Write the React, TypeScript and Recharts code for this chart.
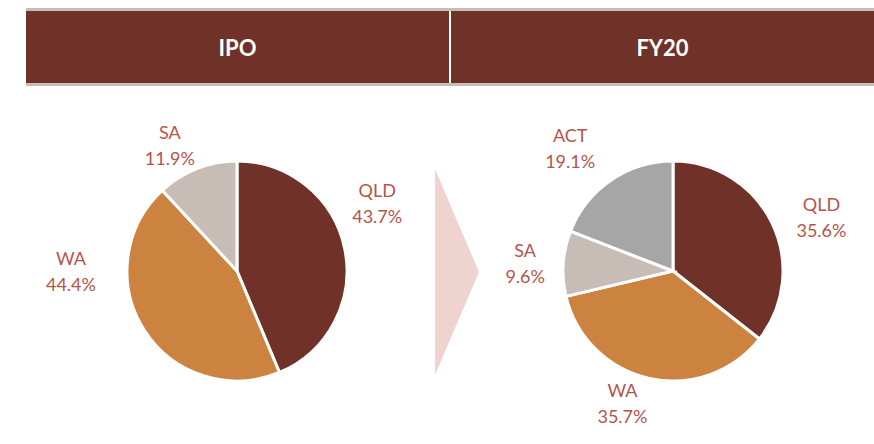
import { Cell, Pie, PieChart } from "recharts";

// state mix by store count, IPO vs FY20
const IPO_STATES = ["QLD", "WA", "SA"];
const IPO_SHARES = [43.7, 44.4, 11.9];

const FY20_STATES = ["QLD", "WA", "SA", "ACT"];
const FY20_SHARES = [35.6, 35.7, 9.6, 19.1];

const PANEL_TITLES = ["IPO", "FY20"];

const STATE_COLORS: Record<string, string> = {
  QLD: "#6f3128",
  WA: "#cd8340",
  SA: "#c8bcb7",
  ACT: "#a6a6a6",
};

// label placement (deg, px from centre) - mimics Excel "best fit"
const IPO_LABEL_POLAR = [
  [26, 156],
  [180, 166],
  [118, 143],
];
const FY20_LABEL_POLAR = [
  [20, 158],
  [-111, 141],
  [177, 148],
  [130, 160],
];

const FONT = "Lato, 'Open Sans', sans-serif";
const LABEL_COLOR = "#b5544a";
const HEADER_BG = "#6f3128";

function makeLabel(polar: number[][]) {
  return (props: any) => {
    const { cx, cy, index, name, value } = props;
    const [deg, dist] = polar[index];
    const rad = (deg * Math.PI) / 180;
    const x = cx + dist * Math.cos(rad);
    const y = cy - dist * Math.sin(rad);
    return (
      <text
        x={x}
        y={y}
        textAnchor="middle"
        fill={LABEL_COLOR}
        fontFamily={FONT}
        fontSize={18}
      >
        <tspan x={x} y={y - 13} dominantBaseline="central">
          {name}
        </tspan>
        <tspan x={x} y={y + 13} dominantBaseline="central">
          {value.toFixed(1)}%
        </tspan>
      </text>
    );
  };
}

function StatePie({
  states,
  shares,
  polar,
  width,
  cx,
}: {
  states: string[];
  shares: number[];
  polar: number[][];
  width: number;
  cx: number;
}) {
  const data = states.map((s, i) => ({ name: s, value: shares[i] }));
  return (
    <PieChart
      width={width}
      height={344}
      margin={{ top: 0, right: 0, bottom: 0, left: 0 }}
    >
      <Pie
        data={data}
        dataKey="value"
        nameKey="name"
        cx={cx}
        cy={171}
        outerRadius={110}
        startAngle={90}
        endAngle={-270}
        stroke="#ffffff"
        strokeWidth={3}
        label={makeLabel(polar)}
        labelLine={false}
        isAnimationActive={false}
      >
        {data.map((d) => (
          <Cell key={d.name} fill={STATE_COLORS[d.name]} />
        ))}
      </Pie>
    </PieChart>
  );
}

export default function App() {
  return (
    <div
      style={{
        position: "absolute",
        left: 0,
        top: 0,
        width: 874,
        height: 444,
        background: "#ffffff",
        fontFamily: FONT,
        overflow: "hidden",
      }}
    >
      {/* header band */}
      <div
        style={{
          position: "absolute",
          left: 26,
          top: 8,
          width: 848,
          height: 78,
          background: "#c8bcb7",
        }}
      />
      {PANEL_TITLES.map((t, i) => (
        <div
          key={t}
          style={{
            position: "absolute",
            left: i === 0 ? 26 : 451,
            top: 11,
            width: 423,
            height: 72,
            background: HEADER_BG,
            color: "#ffffff",
            fontWeight: 700,
            fontSize: 22,
            display: "flex",
            alignItems: "center",
            justifyContent: "center",
          }}
        >
          {t}
        </div>
      ))}
      <div
        style={{
          position: "absolute",
          left: 449,
          top: 11,
          width: 2,
          height: 72,
          background: "#ffffff",
        }}
      />

      {/* chevron between the pies */}
      <svg
        width={60}
        height={220}
        style={{ position: "absolute", left: 430, top: 162 }}
      >
        <polygon points="5,7 49,110 5,213" fill="#efd3ce" />
      </svg>

      <div style={{ position: "absolute", left: 0, top: 100 }}>
        <StatePie
          states={IPO_STATES}
          shares={IPO_SHARES}
          polar={IPO_LABEL_POLAR}
          width={440}
          cx={237}
        />
      </div>
      <div style={{ position: "absolute", left: 440, top: 100 }}>
        <StatePie
          states={FY20_STATES}
          shares={FY20_SHARES}
          polar={FY20_LABEL_POLAR}
          width={434}
          cx={233}
        />
      </div>
    </div>
  );
}
